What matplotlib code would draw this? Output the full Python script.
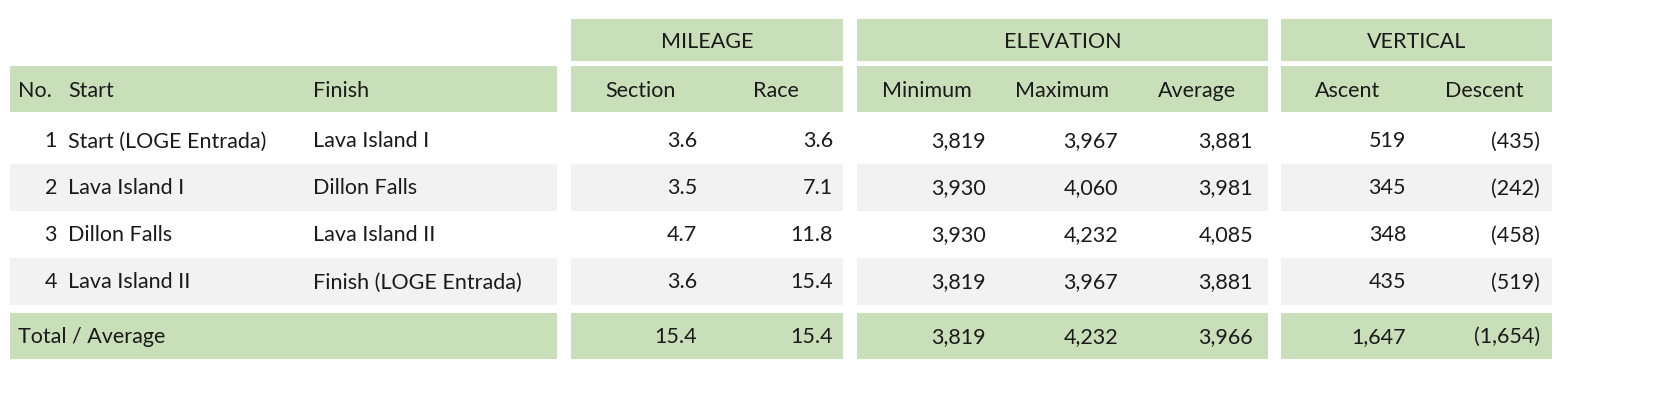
import matplotlib
matplotlib.use("Agg")
import matplotlib.pyplot as plt
from matplotlib.patches import Rectangle

nums = ["1", "2", "3", "4"]
starts = ["Start (LOGE Entrada)", "Lava Island I", "Dillon Falls", "Lava Island II"]
finishes = ["Lava Island I", "Dillon Falls", "Lava Island II", "Finish (LOGE Entrada)"]
section = ["3.6", "3.5", "4.7", "3.6"]
race = ["3.6", "7.1", "11.8", "15.4"]
minimum = ["3,819", "3,930", "3,930", "3,819"]
maximum = ["3,967", "4,060", "4,232", "3,967"]
average = ["3,881", "3,981", "4,085", "3,881"]
ascent = ["519", "345", "348", "435"]
descent = ["(435)", "(242)", "(458)", "(519)"]
totals = ["15.4", "15.4", "3,819", "4,232", "3,966", "1,647", "(1,654)"]
groups = ["MILEAGE", "ELEVATION", "VERTICAL"]
subheads = ["Section", "Race", "Minimum", "Maximum", "Average", "Ascent", "Descent"]

GREEN = "#c9dfb9"
GRAY = "#f2f2f2"
TXT = "#1a1a1a"
FONT = "Lato"
FS = 15.5

fig = plt.figure(figsize=(16.64, 4.02), dpi=100)
ax = fig.add_axes([0, 0, 1, 1])
ax.set_xlim(0, 1664)
ax.set_ylim(402, 0)
ax.axis("off")

spans = [(10, 557), (571, 843), (857, 1268), (1281, 1552)]
col_right = [697, 833, 986, 1118, 1253, 1406, 1540]
col_center = [640, 776, 927, 1062, 1197, 1348, 1484]

def rect(x0, x1, y0, y1, c):
    ax.add_patch(Rectangle((x0, y0), x1 - x0, y1 - y0, color=c, lw=0))

def t(x, y, s, ha="left"):
    ax.text(x, y, s, ha=ha, va="center", fontsize=FS, family=FONT, color=TXT)

for (x0, x1), g in zip(spans[1:], groups):
    rect(x0, x1, 20, 62, GREEN)
    t((x0 + x1) / 2, 42, g, ha="center")
for x0, x1 in spans:
    rect(x0, x1, 67, 113, GREEN)
t(18, 91, "No.")
t(68, 91, "Start")
t(313, 91, "Finish")
for c, s in zip(col_center, subheads):
    t(c, 91, s, ha="center")

row_top = [118, 165, 212, 259]
for i in range(4):
    y0 = row_top[i]
    y1 = y0 + 47
    if i % 2 == 1:
        for x0, x1 in spans:
            rect(x0, x1, y0, y1, GRAY)
    yc = (y0 + y1) / 2
    t(57, yc, nums[i], ha="right")
    t(68, yc, starts[i])
    t(313, yc, finishes[i])
    vals = [section[i], race[i], minimum[i], maximum[i], average[i], ascent[i], descent[i]]
    for x, v in zip(col_right, vals):
        t(x, yc, v, ha="right")

for x0, x1 in spans:
    rect(x0, x1, 314, 360, GREEN)
t(18, 337, "Total / Average")
for x, v in zip(col_right, totals):
    t(x, 337, v, ha="right")

fig.savefig("out.png", dpi=100)
